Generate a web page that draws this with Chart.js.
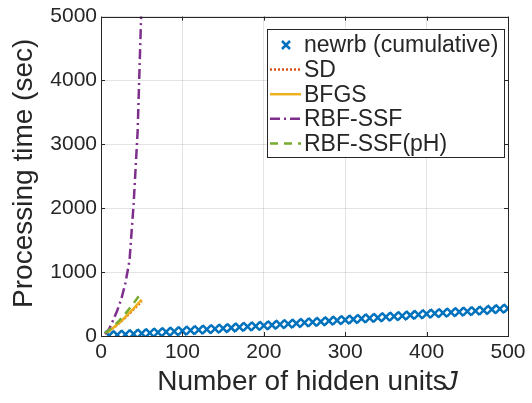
<!DOCTYPE html>
<html><head><meta charset="utf-8">
<script src="https://cdn.jsdelivr.net/npm/chart.js@4"></script>
<style>html,body{margin:0;padding:0;background:#fff}canvas{display:block}</style>
</head><body>
<canvas id="c" width="532" height="403"></canvas>
<script>
// ---- data ----
const jNewrb = [10,20,30,40,50,60,70,80,90,100,110,120,130,140,150,160,170,180,190,200,
  210,220,230,240,250,260,270,280,290,300,310,320,330,340,350,360,370,380,390,400,
  410,420,430,440,450,460,470,480,490,500];
const newrb = [8,16,24,32,40,48,56,64,72,80,88,96,104,112,121,129,138,146,155,164,
  172,181,190,199,208,217,226,235,244,253,262,271,280,289,298,307,316,325,335,346,
  354,362,370,378,386,394,402,415,426,432];
const jSmall = [5,10,15,20,25,30,35,40,45,50];
const sd     = [40,80,125,175,230,290,350,415,480,545];
const bfgs   = [40,80,130,180,235,300,365,430,500,570];
const ssf    = [30,110,250,400,580,830,1180,2050,3200,5300];
const ssfPh  = [45,95,150,210,275,350,430,510,600,680];
const xTicks = [0,100,200,300,400,500];
const yTicks = [0,1000,2000,3000,4000,5000];
const legendLabels = ['newrb (cumulative)','SD','BFGS','RBF-SSF','RBF-SSF(pH)'];
const xTitle = 'Number of hidden units';
const xTitleVar = 'J';
const yTitle = 'Processing time (sec)';

const FONT = '"Liberation Sans", Arial, Helvetica, sans-serif';
const AX = '#262626';
const colors = ['#0072BD','#D95319','#EDB120','#7E2F8E','#77AC30'];
const dashes = [[],[2,2],[],[10,4,2,4],[8,6]];

const pts = (xs, ys) => xs.map((x,i)=>({x, y: ys[i]}));

const PL = {left:0, right:24, top:16, bottom:0};

const overlay = {
  id:'overlay',
  afterDraw(chart){
    const ctx = chart.ctx, a = chart.chartArea;
    const xs = chart.scales.x, ys = chart.scales.y;
    ctx.save();
    // box
    ctx.strokeStyle = AX; ctx.lineWidth = 1;
    ctx.strokeRect(Math.round(a.left)+0.5, Math.round(a.top)+0.5,
      Math.round(a.right-a.left), Math.round(a.bottom-a.top));
    // inward ticks
    ctx.beginPath();
    xTicks.forEach(v=>{
      const px = Math.round(xs.getPixelForValue(v))+0.5;
      ctx.moveTo(px, a.bottom); ctx.lineTo(px, a.bottom-4);
      ctx.moveTo(px, a.top); ctx.lineTo(px, a.top+4);
    });
    yTicks.forEach(v=>{
      const py = Math.round(ys.getPixelForValue(v))+0.5;
      ctx.moveTo(a.left, py); ctx.lineTo(a.left+4, py);
      ctx.moveTo(a.right, py); ctx.lineTo(a.right-4, py);
    });
    ctx.stroke();

    // legend
    const bx=267, by=29, bw=237, bh=128;
    ctx.fillStyle='#fff'; ctx.fillRect(bx,by,bw,bh);
    ctx.strokeStyle=AX; ctx.lineWidth=1;
    ctx.strokeRect(bx+0.5,by+0.5,bw,bh);
    ctx.font = '23px '+FONT;
    ctx.textBaseline='middle'; ctx.textAlign='left';
    legendLabels.forEach((lab,i)=>{
      const cy = 45 + i*24.6;
      ctx.strokeStyle = colors[i]; ctx.lineWidth = 2.5;
      if(i===0){
        ctx.setLineDash([]);
        ctx.beginPath();
        ctx.moveTo(282,cy-4); ctx.lineTo(290,cy+4);
        ctx.moveTo(290,cy-4); ctx.lineTo(282,cy+4);
        ctx.stroke();
      } else {
        ctx.setLineDash(dashes[i]);
        ctx.beginPath(); ctx.moveTo(270,cy); ctx.lineTo(301,cy); ctx.stroke();
      }
      ctx.setLineDash([]);
      ctx.fillStyle = AX;
      ctx.fillText(lab, 304, cy+1);
    });

    // x title
    ctx.fillStyle = AX;
    ctx.textBaseline='alphabetic';
    ctx.font = '28px '+FONT;
    const w1 = ctx.measureText(xTitle).width;
    ctx.font = 'italic 28px '+FONT;
    const w2 = ctx.measureText(xTitleVar).width;
    const cx = (a.left+a.right)/2 + 3;
    const gap = -3;
    const sx = cx - (w1+w2+gap)/2;
    ctx.font = '28px '+FONT;
    ctx.fillText(xTitle, sx, 390);
    ctx.font = 'italic 28px '+FONT;
    ctx.fillText(xTitleVar, sx+w1+gap, 390);

    // y title
    ctx.translate(32, (a.top+a.bottom)/2 - 3);
    ctx.rotate(-Math.PI/2);
    ctx.font = '28px '+FONT;
    ctx.textAlign='center';
    ctx.fillText(yTitle, 0, 0);
    ctx.restore();
  }
};

new Chart(document.getElementById('c'), {
  type:'scatter',
  data:{datasets:[
    {label:legendLabels[0], data:pts(jNewrb,newrb), showLine:false, pointStyle:'crossRot',
     pointRadius:6, pointBorderWidth:2.5, borderColor:colors[0], backgroundColor:colors[0], order:5},
    {label:legendLabels[1], data:pts(jSmall,sd), showLine:true, pointRadius:0, borderWidth:2.5,
     borderColor:colors[1], borderDash:dashes[1], order:4},
    {label:legendLabels[2], data:pts(jSmall,bfgs), showLine:true, pointRadius:0, borderWidth:2.5,
     borderColor:colors[2], order:3},
    {label:legendLabels[3], data:pts(jSmall,ssf), showLine:true, pointRadius:0, borderWidth:2.5,
     borderColor:colors[3], borderDash:dashes[3], order:2},
    {label:legendLabels[4], data:pts(jSmall,ssfPh), showLine:true, pointRadius:0, borderWidth:2.5,
     borderColor:colors[4], borderDash:dashes[4], order:1}
  ]},
  options:{
    responsive:false, animation:false, devicePixelRatio:1,
    layout:{padding:PL},
    plugins:{legend:{display:false}, tooltip:{enabled:false}},
    scales:{
      x:{type:'linear', min:0, max:500,
         afterBuildTicks:s=>{s.ticks = xTicks.map(v=>({value:v}));},
         afterFit:s=>{s.height = 403-336;},
         grid:{color:'rgba(38,38,38,0.13)', drawTicks:false},
         border:{display:false},
         ticks:{font:{family:FONT,size:21}, color:AX, padding:4, maxRotation:0,
                callback:v=>String(v)}},
      y:{type:'linear', min:0, max:5000,
         afterBuildTicks:s=>{s.ticks = yTicks.map(v=>({value:v}));},
         afterFit:s=>{s.width = 101;},
         grid:{color:'rgba(38,38,38,0.13)', drawTicks:false},
         border:{display:false},
         ticks:{font:{family:FONT,size:21}, color:AX, padding:4,
                callback:v=>String(v)}}
    }
  },
  plugins:[overlay]
});
</script>
</body></html>
